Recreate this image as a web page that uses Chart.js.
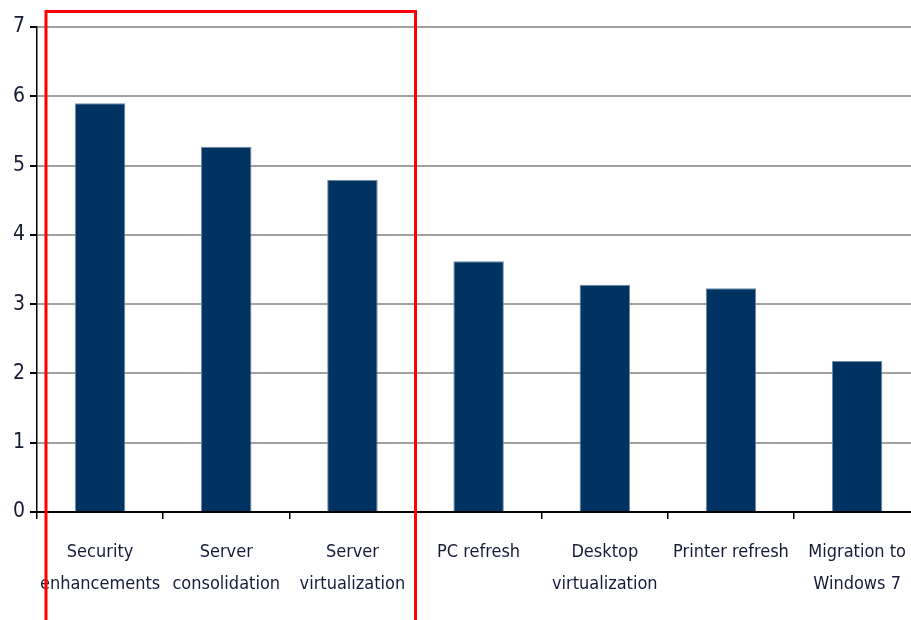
<!DOCTYPE html>
<html>
<head>
<meta charset="utf-8">
<script src="https://cdn.jsdelivr.net/npm/chart.js@4/dist/chart.umd.min.js"></script>
<style>
  html, body { margin: 0; padding: 0; background: #fff; overflow: hidden; }
  #wrap { width: 924px; height: 620px; }
</style>
</head>
<body>
<div id="wrap"><canvas id="itChart"></canvas></div>
<script>
const categories = [
    ['Security', 'enhancements'],
    ['Server', 'consolidation'],
    ['Server', 'virtualization'],
    'PC refresh',
    ['Desktop', 'virtualization'],
    'Printer refresh',
    ['Migration to', 'Windows 7']
];
const scores = [5.9, 5.27, 4.79, 3.62, 3.28, 3.23, 2.18];
const yTicks = [0, 1, 2, 3, 4, 5, 6, 7];

const labelFont = { family: "'Liberation Sans Narrow', 'Arial Narrow', 'DejaVu Sans Condensed', sans-serif", size: 18, lineHeight: 1.75 };

// red highlight box around the first three categories
const highlightBox = {
    id: 'highlightBox',
    afterDraw(chart) {
        const x = chart.scales.x;
        const ctx = chart.ctx;
        const step = (x.getPixelForValue(1) - x.getPixelForValue(0));
        const left = x.getPixelForValue(0) - step / 2 + 9;
        const right = x.getPixelForValue(2) + step / 2;
        ctx.save();
        ctx.strokeStyle = '#ff0000';
        ctx.lineWidth = 3;
        ctx.strokeRect(left, 11.5, right - left, 640);
        ctx.restore();
    }
};

new Chart(document.getElementById('itChart'), {
    type: 'bar',
    data: {
        labels: categories,
        datasets: [{
            data: scores,
            backgroundColor: '#003362',
            borderColor: '#6f8aa6',
            borderWidth: 1,
            categoryPercentage: 1,
            barPercentage: 0.4
        }]
    },
    options: {
        responsive: true,
        maintainAspectRatio: false,
        animation: false,
        layout: { padding: { top: 27, right: 0, left: 0, bottom: 0 } },
        plugins: { legend: { display: false }, tooltip: { enabled: false } },
        scales: {
            x: {
                afterFit: s => { s.height = 108; },
                grid: { drawOnChartArea: false, tickLength: 7, color: '#000', lineWidth: 1.5 },
                border: { color: '#000', width: 2 },
                ticks: { color: '#171c36', font: labelFont, padding: 18, maxRotation: 0, autoSkip: false }
            },
            y: {
                min: 0,
                max: 7,
                afterFit: s => { s.width = 37; },
                afterBuildTicks: s => { s.ticks = yTicks.map(v => ({ value: v })); },
                grid: { color: '#a0a0a0', lineWidth: 2, tickLength: 7, tickColor: '#000' },
                border: { color: '#000', width: 1.5 },
                ticks: { color: '#171c36', font: { family: labelFont.family, size: 21 }, padding: 5 }
            }
        }
    },
    plugins: [highlightBox]
});
</script>
</body>
</html>
